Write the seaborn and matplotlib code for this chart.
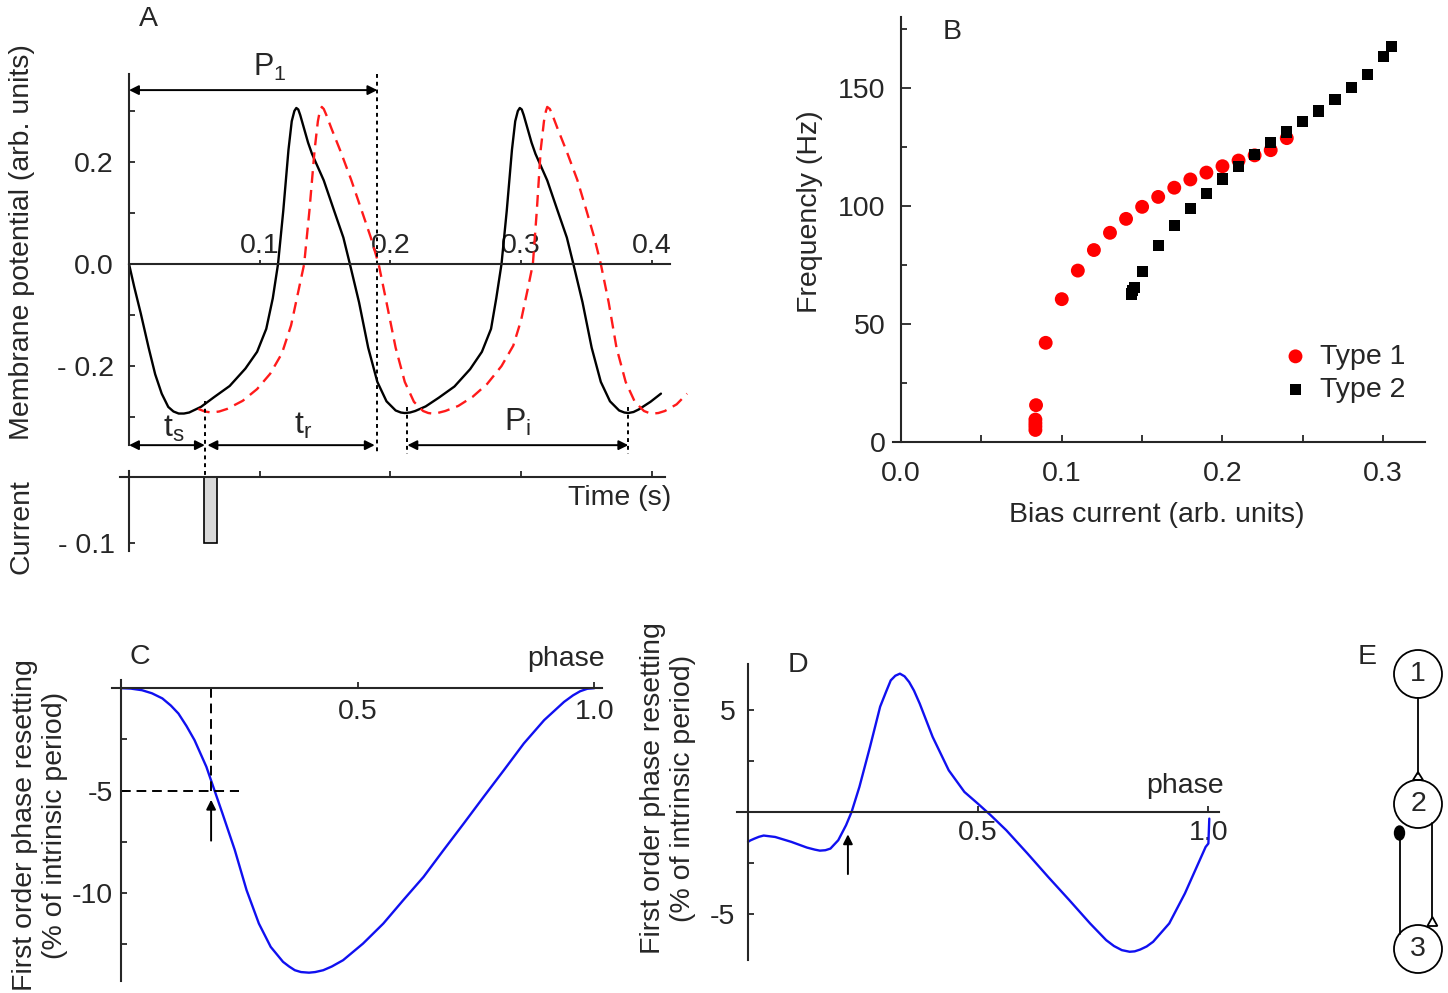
import matplotlib
matplotlib.use("Agg")
import matplotlib.pyplot as plt
import seaborn as sns
from matplotlib.patches import Circle, Polygon, Ellipse

sns.set_style("ticks")
plt.rcParams['font.family'] = ['Liberation Sans', 'DejaVu Sans']
plt.rcParams['mathtext.fontset'] = 'custom'
plt.rcParams['mathtext.rm'] = 'Liberation Sans'
plt.rcParams['font.size'] = 20
plt.rcParams['axes.linewidth'] = 1.5
plt.rcParams['axes.facecolor'] = 'none'

FS = 20.5

# ---------------- Panel A data (time s, membrane potential) ----------------
tA_black = [0.000, 0.004, 0.009, 0.015, 0.020, 0.025, 0.030, 0.034, 0.038, 0.042, 0.046, 0.055, 0.065,
            0.077, 0.089, 0.098, 0.105, 0.110, 0.114, 0.118, 0.122, 0.1245, 0.1265, 0.128, 0.1295,
            0.131, 0.134, 0.137, 0.140, 0.149, 0.157, 0.164, 0.169, 0.176, 0.183, 0.190, 0.197, 0.204,
            0.208, 0.211, 0.215, 0.219, 0.227, 0.237, 0.249, 0.261, 0.270, 0.277, 0.281, 0.285, 0.289,
            0.293, 0.2955, 0.2975, 0.299, 0.3005, 0.302, 0.305, 0.308, 0.311, 0.320, 0.328, 0.335,
            0.340, 0.347, 0.354, 0.361, 0.368, 0.375, 0.379, 0.382, 0.386, 0.390, 0.399, 0.407]
vA_black = [0.000, -0.045, -0.097, -0.164, -0.216, -0.254, -0.280, -0.289, -0.293, -0.293, -0.291, -0.280, -0.261,
            -0.239, -0.205, -0.172, -0.127, -0.067, 0.000, 0.104, 0.224, 0.280, 0.300, 0.306, 0.303,
            0.292, 0.265, 0.238, 0.216, 0.164, 0.104, 0.052, 0.000, -0.075, -0.164, -0.231, -0.269, -0.287,
            -0.291, -0.292, -0.291, -0.288, -0.279, -0.262, -0.240, -0.206, -0.172, -0.127, -0.067, 0.000, 0.104,
            0.224, 0.280, 0.300, 0.306, 0.303, 0.292, 0.265, 0.238, 0.216, 0.164, 0.104, 0.052,
            0.000, -0.075, -0.164, -0.231, -0.269, -0.287, -0.291, -0.292, -0.290, -0.285, -0.270, -0.254]
tA_red = [0.053, 0.058, 0.063, 0.069, 0.075, 0.087, 0.098, 0.108, 0.117, 0.124, 0.129, 0.134, 0.138,
          0.142, 0.1445, 0.146, 0.1475, 0.149, 0.151, 0.155, 0.162, 0.170, 0.178, 0.185, 0.191, 0.197,
          0.204, 0.211, 0.218, 0.225, 0.229, 0.232, 0.236, 0.242, 0.252, 0.263, 0.274, 0.285, 0.294,
          0.300, 0.305, 0.309, 0.312, 0.315, 0.3175, 0.319, 0.320, 0.322, 0.324, 0.328, 0.335, 0.343,
          0.350, 0.356, 0.361, 0.367, 0.373, 0.380, 0.387, 0.394, 0.398, 0.401, 0.405, 0.410, 0.419, 0.427]
vA_red = [-0.284, -0.289, -0.291, -0.289, -0.284, -0.268, -0.245, -0.215, -0.175, -0.120, -0.060, 0.000, 0.104,
          0.224, 0.280, 0.300, 0.308, 0.304, 0.292, 0.265, 0.220, 0.165, 0.105, 0.052, 0.000, -0.075,
          -0.164, -0.231, -0.270, -0.288, -0.292, -0.293, -0.292, -0.288, -0.278, -0.260, -0.235, -0.200, -0.160,
          -0.110, -0.050, 0.000, 0.104, 0.224, 0.280, 0.300, 0.308, 0.304, 0.292, 0.265, 0.220, 0.165,
          0.105, 0.052, 0.000, -0.075, -0.164, -0.231, -0.270, -0.288, -0.292, -0.293, -0.292, -0.288, -0.275, -0.254]
A_xticks = [0.1, 0.2, 0.3, 0.4]
A_xticklabels = ["0.1", "0.2", "0.3", "0.4"]
A_yticks = [-0.2, 0.0, 0.2]
A_yticklabels = ["- 0.2", "0.0", "0.2"]
t_stim, t_p1, t_pi0, t_pi1 = 0.058, 0.190, 0.213, 0.382
stim_start, stim_width, stim_amp = 0.057, 0.010, -0.1

# ---------------- Panel B data ----------------
bias_type1 = [0.0836, 0.0836, 0.0836, 0.0836, 0.0840, 0.090, 0.10, 0.11, 0.12, 0.13, 0.14,
              0.15, 0.16, 0.17, 0.18, 0.19, 0.20, 0.21, 0.22, 0.23, 0.24]
freq_type1 = [5.1, 6.6, 8.0, 9.5, 15.6, 42.0, 60.5, 72.6, 81.3, 88.6, 94.5,
              99.6, 103.8, 107.7, 111.2, 114.1, 116.8, 119.2, 121.4, 123.6, 128.7]
bias_type2 = [0.1434, 0.144, 0.145, 0.15, 0.16, 0.17, 0.18, 0.19, 0.20, 0.21, 0.22,
              0.23, 0.24, 0.25, 0.26, 0.27, 0.28, 0.29, 0.30, 0.305]
freq_type2 = [62.7, 64.1, 65.6, 72.4, 83.1, 91.7, 99.0, 105.2, 111.4, 116.5, 121.9,
              126.7, 131.3, 135.6, 140.2, 145.0, 150.0, 155.8, 163.1, 167.5]

# ---------------- Panel C data ----------------
phase_C = [0.0, 0.02, 0.044, 0.065, 0.087, 0.105, 0.121, 0.138, 0.155, 0.180, 0.197, 0.214, 0.240,
           0.265, 0.291, 0.316, 0.342, 0.355, 0.367, 0.38, 0.397, 0.41, 0.427, 0.445, 0.469, 0.511,
           0.554, 0.596, 0.639, 0.681, 0.724, 0.766, 0.809, 0.851, 0.894, 0.936, 0.955, 0.970, 0.985, 1.0]
prc_C = [0.0, -0.02, -0.1, -0.25, -0.5, -0.85, -1.24, -1.85, -2.54, -3.84, -4.98, -6.12, -7.9,
         -9.87, -11.5, -12.64, -13.37, -13.6, -13.78, -13.87, -13.9, -13.87, -13.78, -13.6, -13.29, -12.48,
         -11.5, -10.36, -9.22, -7.92, -6.61, -5.31, -4.0, -2.7, -1.56, -0.67, -0.35, -0.15, -0.03, 0.0]
C_marker_phase, C_marker_value = 0.19, -5.0

# ---------------- Panel D data ----------------
phase_D = [0.0, 0.005, 0.014, 0.024, 0.034, 0.059, 0.094, 0.128, 0.145, 0.156, 0.168, 0.179, 0.196,
           0.213, 0.225, 0.242, 0.265, 0.287, 0.300, 0.310, 0.320, 0.330, 0.340, 0.350, 0.3605, 0.373,
           0.401, 0.436, 0.470, 0.499, 0.527, 0.561, 0.607, 0.652, 0.698, 0.743, 0.778, 0.795, 0.812,
           0.829, 0.84, 0.852, 0.866, 0.880, 0.915, 0.949, 0.978, 0.994, 1.0, 1.002]
prc_D = [-1.47, -1.40, -1.31, -1.22, -1.16, -1.23, -1.47, -1.75, -1.85, -1.90, -1.88, -1.80, -1.39,
         -0.65, 0.0, 1.23, 3.19, 5.16, 5.9, 6.45, 6.68, 6.78, 6.65, 6.37, 5.95, 5.31,
         3.68, 2.04, 0.98, 0.41, -0.16, -0.90, -2.04, -3.19, -4.33, -5.47, -6.29, -6.58, -6.78,
         -6.86, -6.84, -6.75, -6.6, -6.37, -5.47, -4.0, -2.53, -1.72, -1.55, -0.33]
D_marker_phase = 0.217

# ---------------- Panel E (network diagram) ----------------
node_labels = ["1", "2", "3"]
node_y = [674, 804, 949]
node_x = 1418
node_r = 24

W, H = 1448, 993
fig = plt.figure(figsize=(W / 100, H / 100), dpi=100)


def add_ax(l, t, r, b):
    return fig.add_axes([l / W, 1 - b / H, (r - l) / W, (b - t) / H])


def ftext(x, y, s, **kw):
    fig.text(x / W, 1 - y / H, s, **kw)


LW = 1.7
dotted = (0, (2, 2))

# ======================= Panel A =======================
axA = add_ax(122.5, 39.6, 691, 462)
sns.lineplot(x=tA_black, y=vA_black, sort=False, estimator=None, color='black', lw=LW, ax=axA)
sns.lineplot(x=tA_red, y=vA_red, sort=False, estimator=None, color='#ff1a1a', lw=LW,
             linestyle=(0, (5, 3)), ax=axA)
axA.set_xlim(-0.005, 0.43)
axA.set_ylim(-0.388, 0.44)
axA.spines['right'].set_visible(False)
axA.spines['bottom'].set_visible(False)
axA.spines['left'].set_position(('data', 0))
axA.spines['left'].set_bounds(-0.355, 0.373)
axA.spines['top'].set_position(('data', 0))
axA.spines['top'].set_bounds(0, 0.414)
axA.xaxis.tick_top()
axA.set_xticks(A_xticks)
axA.set_xticklabels(A_xticklabels)
axA.tick_params(axis='x', direction='out', length=3, width=1.3, pad=1, labelsize=FS)
axA.set_yticks(A_yticks)
axA.set_yticklabels(A_yticklabels)
axA.set_yticks([-0.3, -0.1, 0.1, 0.3], minor=True)
axA.tick_params(axis='y', which='both', direction='in', length=4, width=1.3, pad=11, labelsize=FS)
axA.set_xlabel('')
axA.set_ylabel('')

arrow_kw = dict(arrowstyle='<|-|>', color='black', lw=1.4, shrinkA=0, shrinkB=0, mutation_scale=14)
axA.annotate('', xy=(0, 0.341), xytext=(t_p1, 0.341), arrowprops=arrow_kw)
axA.text(0.108, 0.386, r'P$_\mathregular{1}$', ha='center', va='center', fontsize=22)
axA.plot([t_p1, t_p1], [0.373, -0.372], ls=dotted, color='black', lw=1.4)
yb = -0.355
axA.annotate('', xy=(0, yb), xytext=(t_stim, yb), arrowprops=arrow_kw)
axA.annotate('', xy=(t_stim + 0.002, yb), xytext=(t_p1 - 0.002, yb), arrowprops=arrow_kw)
axA.annotate('', xy=(t_pi0, yb), xytext=(t_pi1, yb), arrowprops=arrow_kw)
axA.plot([t_stim, t_stim], [-0.268, -0.418], ls=dotted, color='black', lw=1.4, clip_on=False)
axA.plot([t_pi0, t_pi0], [-0.28, -0.372], ls=dotted, color='black', lw=1.4)
axA.plot([t_pi1, t_pi1], [-0.28, -0.372], ls=dotted, color='black', lw=1.4)
axA.text(0.034, -0.322, r't$_\mathregular{s}$', ha='center', va='center', fontsize=23)
axA.text(0.133, -0.318, r't$_\mathregular{r}$', ha='center', va='center', fontsize=23)
axA.text(0.297, -0.310, r'P$_\mathregular{i}$', ha='center', va='center', fontsize=23)

# current sub-panel
axI = add_ax(122.5, 460, 691, 560)
axI.bar([stim_start], [stim_amp], width=stim_width, align='edge', color='#d9d9d9',
        edgecolor='black', lw=1.2)
axI.set_xlim(-0.005, 0.43)
axI.set_ylim(-0.126, 0.026)
axI.spines['right'].set_visible(False)
axI.spines['bottom'].set_visible(False)
axI.spines['left'].set_position(('data', 0))
axI.spines['left'].set_bounds(-0.112, 0.01)
axI.spines['top'].set_position(('data', 0))
axI.spines['top'].set_bounds(-0.007, 0.41)
axI.xaxis.tick_top()
axI.set_xticks([0.0, 0.1, 0.2, 0.3, 0.4])
axI.set_xticklabels([])
axI.tick_params(axis='x', direction='out', length=4, width=1.3)
axI.set_yticks([-0.1])
axI.set_yticklabels(['- 0.1'])
axI.tick_params(axis='y', direction='in', length=4, width=1.3, pad=10, labelsize=FS)
axI.text(0.3755, -0.031, 'Time (s)', ha='center', va='center', fontsize=FS)

ftext(22, 242, 'Membrane potential (arb. units)', rotation=90, ha='center', va='center', fontsize=FS)
ftext(22, 527, 'Current', rotation=90, ha='center', va='center', fontsize=FS)
ftext(148, 19, 'A', ha='center', va='center', fontsize=FS)

# ======================= Panel B =======================
axB = add_ax(893, 17, 1425, 442)
sns.scatterplot(x=bias_type1, y=freq_type1, color='#ff0000', marker='o', s=100,
                edgecolor='none', label='Type 1', ax=axB)
sns.scatterplot(x=bias_type2, y=freq_type2, color='black', marker='s', s=64,
                edgecolor='none', label='Type 2', ax=axB)
axB.set_xlim(-0.005, 0.326)
axB.set_ylim(0, 180)
axB.spines['right'].set_visible(False)
axB.spines['top'].set_visible(False)
axB.spines['left'].set_position(('data', 0))
axB.set_xticks([0.0, 0.1, 0.2, 0.3])
axB.set_xticklabels(['0.0', '0.1', '0.2', '0.3'])
axB.set_xticks([0.05, 0.15, 0.25], minor=True)
axB.set_yticks([0, 50, 100, 150])
axB.set_yticklabels(['0', '50', '100', '150'])
axB.set_yticks([25, 75, 125, 175], minor=True)
axB.tick_params(axis='x', which='both', direction='in', length=5, width=1.3, pad=14, labelsize=FS)
axB.tick_params(axis='y', which='major', direction='in', length=7, width=1.3, pad=11, labelsize=FS)
axB.tick_params(axis='y', which='minor', direction='in', length=4, width=1.3)
axB.set_xlabel('')
axB.set_ylabel('')
axB.legend(loc='lower right', bbox_to_anchor=(1.0, 0.045), frameon=False, fontsize=FS,
           handlelength=0.8, handletextpad=0.45, labelspacing=0.25, borderpad=0.2, markerscale=1.0)
ftext(810, 212, 'Frequencly (Hz)', rotation=90, ha='center', va='center', fontsize=FS)
ftext(1157, 515, 'Bias current (arb. units)', ha='center', va='center', fontsize=FS)
ftext(952, 32, 'B', ha='center', va='center', fontsize=FS)

# ======================= Panel C =======================
axC = add_ax(107, 637, 618, 987)
sns.lineplot(x=phase_C, y=prc_C, sort=False, estimator=None, color='#1010f0', lw=1.7, ax=axC)
axC.set_xlim(-0.03, 1.05)
axC.set_ylim(-14.6, 2.5)
axC.spines['right'].set_visible(False)
axC.spines['top'].set_visible(False)
axC.spines['left'].set_position(('data', 0))
axC.spines['left'].set_bounds(-14.3, 0.4)
axC.spines['bottom'].set_position(('data', 0))
axC.spines['bottom'].set_bounds(-0.02, 1.017)
axC.set_xticks([0.5, 1.0])
axC.set_xticklabels(['0.5', '1.0'])
axC.tick_params(axis='x', direction='in', length=4, width=1.3, pad=8, labelsize=FS)
axC.set_yticks([-10, -5])
axC.set_yticklabels(['-10', '-5'])
axC.set_yticks([-12.5, -7.5, -2.5], minor=True)
axC.tick_params(axis='y', which='both', direction='in', length=4, width=1.3, pad=6, labelsize=FS)
axC.set_xlabel('')
axC.set_ylabel('')
dash = (0, (5, 3))
axC.plot([C_marker_phase, C_marker_phase], [0, C_marker_value], ls=dash, color='black', lw=1.4)
axC.plot([0, 0.248], [C_marker_value, C_marker_value], ls=dash, color='black', lw=1.4)
axC.annotate('', xy=(C_marker_phase, -5.45), xytext=(C_marker_phase, -7.45),
             arrowprops=dict(arrowstyle='-|>', color='black', lw=1.4, shrinkA=0, shrinkB=0,
                             mutation_scale=14))
axC.text(0.94, 1.44, 'phase', ha='center', va='center', fontsize=FS)
ftext(140, 657, 'C', ha='center', va='center', fontsize=FS)
ftext(40, 825, 'First order phase resetting\n(% of intrinsic period)', rotation=90,
      ha='center', va='center', fontsize=FS, multialignment='center', linespacing=1.2)

# ======================= Panel D =======================
axD = add_ax(725, 638.6, 1236, 975)
sns.lineplot(x=phase_D, y=prc_D, sort=False, estimator=None, color='#1010f0', lw=1.7, ax=axD)
axD.set_xlim(-0.05, 1.06)
axD.set_ylim(-8, 8.5)
axD.spines['right'].set_visible(False)
axD.spines['top'].set_visible(False)
axD.spines['left'].set_position(('data', 0))
axD.spines['left'].set_bounds(-7.25, 7.25)
axD.spines['bottom'].set_position(('data', 0))
axD.spines['bottom'].set_bounds(-0.023, 1.023)
axD.set_xticks([0.5, 1.0])
axD.set_xticklabels(['0.5', '1.0'])
axD.tick_params(axis='x', direction='in', length=4, width=1.3, pad=6, labelsize=FS)
axD.set_yticks([-5, 5])
axD.set_yticklabels(['-5', '5'])
axD.set_yticks([-2.5, 2.5], minor=True)
axD.tick_params(axis='y', which='both', direction='in', length=4, width=1.3, pad=9, labelsize=FS)
axD.set_xlabel('')
axD.set_ylabel('')
axD.annotate('', xy=(D_marker_phase, -1.1), xytext=(D_marker_phase, -3.05),
             arrowprops=dict(arrowstyle='-|>', color='black', lw=1.4, shrinkA=0, shrinkB=0,
                             mutation_scale=14))
axD.text(0.95, 1.25, 'phase', ha='center', va='center', fontsize=FS)
ftext(798, 665, 'D', ha='center', va='center', fontsize=FS)
ftext(668, 788, 'First order phase resetting\n(% of intrinsic period)', rotation=90,
      ha='center', va='center', fontsize=FS, multialignment='center', linespacing=1.25)

# ======================= Panel E =======================
axE = add_ax(1340, 640, 1448, 990)
axE.set_xlim(1340, 1448)
axE.set_ylim(990, 640)
axE.axis('off')
lwE = 1.3
for lab, yc in zip(node_labels, node_y):
    axE.add_patch(Circle((node_x, yc), node_r, fill=False, ec='black', lw=lwE))
    axE.text(node_x, yc, lab, ha='center', va='center', fontsize=FS)
# 1 -> 2 excitatory
axE.plot([node_x, node_x], [node_y[0] + node_r, node_y[1] - node_r - 6], color='black', lw=lwE)
axE.add_patch(Polygon([[node_x, node_y[1] - node_r - 8], [node_x - 5, node_y[1] - node_r],
                       [node_x + 5, node_y[1] - node_r]], closed=True, fill=False, ec='black', lw=lwE))
# 3 -> 2 inhibitory (left)
xl = 1399.5
axE.plot([xl, xl], [834, 934], color='black', lw=lwE)
axE.add_patch(Ellipse((xl, 833), 10, 14, color='black'))
# 2 -> 3 excitatory (right)
xr = 1432.4
axE.plot([xr, xr], [823.5, 918], color='black', lw=lwE)
axE.add_patch(Polygon([[xr, 917], [xr - 5, 926], [xr + 5, 926]], closed=True, fill=False,
                      ec='black', lw=lwE))
ftext(1367, 657, 'E', ha='center', va='center', fontsize=FS)

fig.savefig('out.png', dpi=100)
